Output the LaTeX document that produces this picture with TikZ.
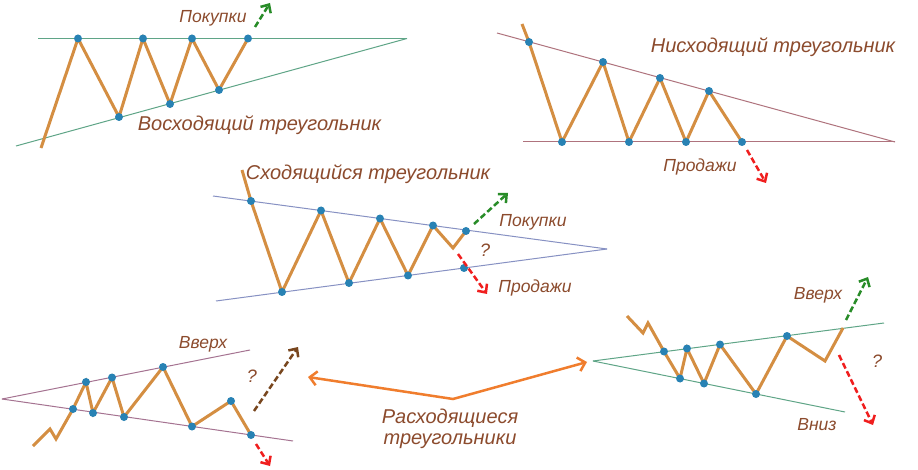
\documentclass[tikz,border=0pt]{standalone}
\usepackage{fontspec}
\setmainfont{Liberation Sans}
\usetikzlibrary{arrows.meta}
\definecolor{zig}{RGB}{212,142,66}
\definecolor{dotc}{RGB}{40,130,180}
\definecolor{txt}{RGB}{140,75,45}
\definecolor{lgreen}{RGB}{95,165,135}
\definecolor{lpink}{RGB}{175,115,125}
\definecolor{lblue}{RGB}{135,145,195}
\definecolor{lmauve}{RGB}{165,115,145}
\definecolor{agreen}{RGB}{40,140,40}
\definecolor{ared}{RGB}{240,30,30}
\definecolor{abrown}{RGB}{120,70,30}
\definecolor{aorange}{RGB}{240,125,45}
\tikzset{
  zigline/.style={draw=zig, line width=3pt},
  pt/.style={circle, fill=dotc, inner sep=0pt, minimum size=8pt},
  bound/.style={line width=1pt},
  darrow/.style={dash pattern=on 6pt off 3pt, line width=2.5pt, -{Straight Barb[length=6.5pt,width=12pt]}},
  big/.style={text=txt, font=\itshape\fontsize{20}{24}\selectfont, inner sep=0pt, anchor=base},
  lbl/.style={text=txt, font=\itshape\fontsize{17.5}{21}\selectfont, inner sep=0pt, anchor=base},
  qm/.style={text=txt, font=\itshape\fontsize{18}{21}\selectfont, inner sep=0pt, anchor=base},
}
\begin{document}
\begin{tikzpicture}[x=1pt,y=-1pt]
\useasboundingbox[fill=white] (0,0) rectangle (918,470);

% ---------- Ascending triangle ----------
\coordinate (aTL) at (38,38.5);
\coordinate (aBL) at (16,146);
\coordinate (aApex) at (407,38.5);
\draw[bound,lgreen] (aTL) -- (aApex);
\draw[bound,lgreen] (aBL) -- (aApex);
\coordinate (a0) at (41,148);
\coordinate (a1) at (78,38.5);
\coordinate (a2) at (119,117);
\coordinate (a3) at (143,38.5);
\coordinate (a4) at (170,104);
\coordinate (a5) at (192,38.5);
\coordinate (a6) at (219,90);
\coordinate (a7) at (248,38.5);
\draw[zigline] (a0)--(a1)--(a2)--(a3)--(a4)--(a5)--(a6)--(a7);
\foreach \p in {a1,a2,a3,a4,a5,a6,a7} \node[pt] (d\p) at (\p) {};
\coordinate (aS) at (255,27);
\coordinate (aE) at (270,3);
\draw[darrow,agreen] (aS) -- (aE);
\node[lbl] (tBuy1) at (213,22.5) {Покупки};
\node[big] (tAsc) at (259.5,131) {Восходящий треугольник};

% ---------- Descending triangle ----------
\coordinate (bTL) at (497,33);
\coordinate (bBL) at (523,142);
\coordinate (bApex) at (895,142);
\draw[bound,lpink] (bTL) -- (bApex);
\draw[bound,lpink] (bBL) -- (bApex);
\coordinate (b0) at (522,24);
\coordinate (b1) at (529,42);
\coordinate (b2) at (562,142);
\coordinate (b3) at (603,62);
\coordinate (b4) at (629,142);
\coordinate (b5) at (660,78);
\coordinate (b6) at (686,142);
\coordinate (b7) at (709,91);
\coordinate (b8) at (742,142);
\draw[zigline] (b0)--(b1)--(b2)--(b3)--(b4)--(b5)--(b6)--(b7)--(b8);
\foreach \p in {b1,b2,b3,b4,b5,b6,b7,b8} \node[pt] (d\p) at (\p) {};
\coordinate (bS) at (747,150);
\coordinate (bE) at (766,183);
\draw[darrow,ared] (bS) -- (bE);
\node[big] (tDesc) at (773,53) {Нисходящий треугольник};
\node[lbl] (tSell1) at (700,172) {Продажи};

% ---------- Symmetrical triangle ----------
\coordinate (cTL) at (213,196);
\coordinate (cBL) at (216,301);
\coordinate (cApex) at (607,249);
\draw[bound,lblue] (cTL) -- (cApex);
\draw[bound,lblue] (cBL) -- (cApex);
\coordinate (c0) at (242,170);
\coordinate (c1) at (251,201);
\coordinate (c2) at (282,292);
\coordinate (c3) at (321,210.5);
\coordinate (c4) at (349,283);
\coordinate (c5) at (380,218.5);
\coordinate (c6) at (408,275.5);
\coordinate (c7) at (433,225.5);
\coordinate (c8) at (453,248);
\coordinate (c9) at (466,231);
\coordinate (c10) at (464,268);
\draw[zigline] (c0)--(c1)--(c2)--(c3)--(c4)--(c5)--(c6)--(c7)--(c8)--(c9);
\foreach \p in {c1,c2,c3,c4,c5,c6,c7,c9,c10} \node[pt] (d\p) at (\p) {};
\coordinate (cGS) at (474,224);
\coordinate (cGE) at (508,193);
\draw[darrow,agreen] (cGS) -- (cGE);
\coordinate (cRS) at (458,254);
\coordinate (cRE) at (487,294);
\draw[darrow,ared] (cRS) -- (cRE);
\node[big] (tSym) at (368,180) {Сходящийся треугольник};
\node[lbl] (tBuy2) at (533,227) {Покупки};
\node[lbl] (tSell2) at (535,292) {Продажи};
\node[qm] (tQ1) at (485,257) {?};

% ---------- Broadening triangle (left) ----------
\coordinate (eApex) at (2,399);
\coordinate (eTR) at (250,350);
\coordinate (eBR) at (293,441);
\draw[bound,lmauve] (eApex) -- (eTR);
\draw[bound,lmauve] (eApex) -- (eBR);
\coordinate (e0) at (33,446);
\coordinate (e1) at (50,429);
\coordinate (e2) at (56,439);
\coordinate (e3) at (73,409);
\coordinate (e4) at (86,382);
\coordinate (e5) at (93,413);
\coordinate (e6) at (112,377.5);
\coordinate (e7) at (124,417);
\coordinate (e8) at (163,367);
\coordinate (e9) at (192,426.5);
\coordinate (e10) at (231,401);
\coordinate (e11) at (251,435);
\draw[zigline] (e0)--(e1)--(e2)--(e3)--(e4)--(e5)--(e6)--(e7)--(e8)--(e9)--(e10)--(e11);
\foreach \p in {e3,e4,e5,e6,e7,e8,e9,e10,e11} \node[pt] (d\p) at (\p) {};
\coordinate (eUS) at (254,411);
\coordinate (eUE) at (298,347);
\draw[darrow,abrown] (eUS) -- (eUE);
\coordinate (eDS) at (256,444);
\coordinate (eDE) at (270,466);
\draw[darrow,ared] (eDS) -- (eDE);
\node[lbl] (tUp1) at (203,348) {Вверх};
\node[qm] (tQ2) at (252,382) {?};

% ---------- Broadening triangle (right) ----------
\coordinate (fApex) at (593,361);
\coordinate (fTR) at (884,323);
\coordinate (fBR) at (845,412);
\draw[bound,lgreen] (fApex) -- (fTR);
\draw[bound,lgreen] (fApex) -- (fBR);
\coordinate (f0) at (627,316);
\coordinate (f1) at (643,333);
\coordinate (f2) at (648,323);
\coordinate (f3) at (664,351.5);
\coordinate (f4) at (680,378.5);
\coordinate (f5) at (687,348.5);
\coordinate (f6) at (704,383.5);
\coordinate (f7) at (720,344.5);
\coordinate (f8) at (756,394);
\coordinate (f9) at (787,336);
\coordinate (f10) at (825,361);
\coordinate (f11) at (843,328);
\draw[zigline] (f0)--(f1)--(f2)--(f3)--(f4)--(f5)--(f6)--(f7)--(f8)--(f9)--(f10)--(f11);
\foreach \p in {f3,f4,f5,f6,f7,f8,f9} \node[pt] (d\p) at (\p) {};
\coordinate (fUS) at (846,320);
\coordinate (fUE) at (868,277);
\draw[darrow,agreen] (fUS) -- (fUE);
\coordinate (fDS) at (839,355);
\coordinate (fDE) at (873,425);
\draw[darrow,ared] (fDS) -- (fDE);
\node[lbl] (tUp2) at (818,299) {Вверх};
\node[lbl] (tDown) at (817,430) {Вниз};
\node[qm] (tQ3) at (877,367) {?};

% ---------- Center label ----------
\coordinate (gL) at (308,377);
\coordinate (gM) at (453,399);
\coordinate (gR) at (587,362);
\draw[aorange, line width=2.5pt, {Straight Barb[length=7pt,width=14pt]}-{Straight Barb[length=7pt,width=14pt]}] (gL) -- (gM) -- (gR);
\node[big] (tDiv1) at (450,423) {Расходящиеся};
\node[big] (tDiv2) at (450,444) {треугольники};
\end{tikzpicture}
\end{document}
